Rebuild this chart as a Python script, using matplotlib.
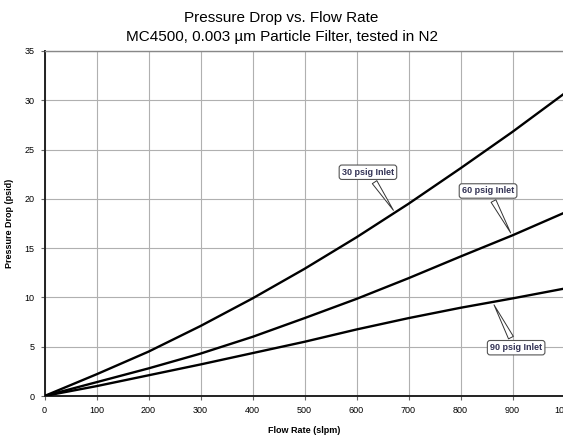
import matplotlib
matplotlib.use("Agg")
import matplotlib.pyplot as plt
import numpy as np

flow = [0, 100, 200, 300, 400, 500, 600, 700, 800, 900, 1000]
dp_30 = [0, 2.2, 4.5, 7.1, 9.9, 12.9, 16.1, 19.5, 23.1, 26.8, 30.7]
dp_60 = [0, 1.4, 2.8, 4.3, 6.0, 7.9, 9.85, 11.95, 14.15, 16.3, 18.6]
dp_90 = [0, 1.0, 2.1, 3.2, 4.35, 5.5, 6.75, 7.9, 8.95, 9.9, 10.9]
labels = ["30 psig Inlet", "60 psig Inlet", "90 psig Inlet"]
x_ticks = [0, 100, 200, 300, 400, 500, 600, 700, 800, 900, 1000]
y_ticks = [0, 5, 10, 15, 20, 25, 30, 35]

plt.rcParams['font.family'] = ['Liberation Sans', 'DejaVu Sans']
fig = plt.figure(figsize=(5.63, 4.37), dpi=100)
W, H = 563, 437
ax = fig.add_axes([44.5 / W, 41 / H, 520 / W, 345 / H])

for y in (dp_30, dp_60, dp_90):
    ax.plot(flow, y, color='black', lw=1.7, solid_capstyle='butt', solid_joinstyle='round', zorder=3)

ax.set_xlim(0, 1000)
ax.set_ylim(0, 35)
ax.set_xticks(x_ticks)
ax.set_yticks(y_ticks)
ax.grid(True, color='#b0b0b0', lw=0.8)
ax.tick_params(labelsize=6.5, length=3, width=0.8, color='#666666', pad=4)
ax.spines['right'].set_visible(False)
ax.spines['top'].set_color('#888888')
ax.spines['top'].set_linewidth(1.0)
for s in ('left', 'bottom'):
    ax.spines[s].set_color('#222222')
    ax.spines[s].set_linewidth(1.4)

ax.set_xlabel('Flow Rate (slpm)', fontsize=6.5, fontweight='bold', labelpad=8)
ax.set_ylabel('Pressure Drop (psid)', fontsize=6.5, fontweight='bold', labelpad=8)
fig.text(0.5, 1 - 18 / H, 'Pressure Drop vs. Flow Rate', ha='center', va='center', fontsize=11)
fig.text(0.5, 1 - 37 / H, 'MC4500, 0.003 \u00b5m Particle Filter, tested in N2', ha='center', va='center', fontsize=11)

ann = [
    (labels[0], (674, 18.6), (622, 22.7)),
    (labels[1], (899, 16.3), (853, 20.8)),
    (labels[2], (862, 9.5), (907, 4.9)),
]
for txt, pt, tp in ann:
    ax.annotate(txt, xy=pt, xytext=tp, ha='center', va='center',
                fontsize=6.5, fontweight='bold', color='#333355', zorder=5,
                bbox=dict(boxstyle='round,pad=0.3,rounding_size=0.3', fc='white', ec='#555555', lw=0.8),
                arrowprops=dict(arrowstyle='wedge,tail_width=0.6,shrink_factor=0.5', fc='white', ec='#333333', lw=0.7))

fig.savefig('out.png', dpi=100)
